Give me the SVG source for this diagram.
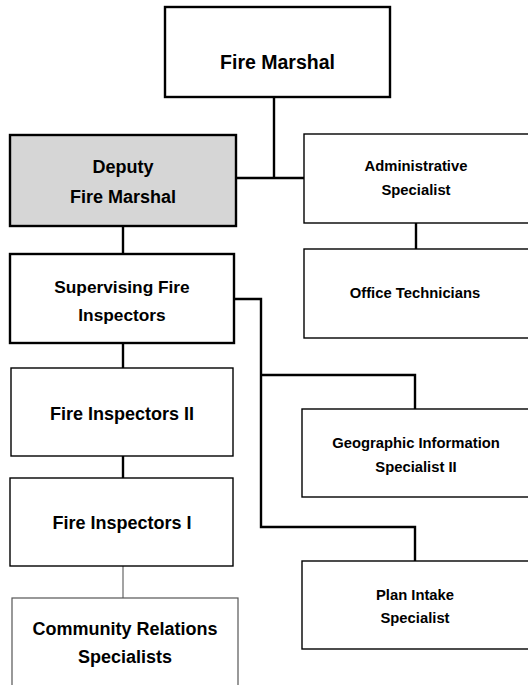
<svg xmlns="http://www.w3.org/2000/svg" width="528" height="685" viewBox="0 0 528 685">
<style>
  .box { fill: #ffffff; stroke: #000000; stroke-width: 1.4; }
  .bold { stroke-width: 2.4; }
  .gray { fill: #d6d6d6; }
  .lite { stroke: #555555; stroke-width: 1.2; }
  .t { font-family: "Liberation Sans", Arial, sans-serif; font-weight: bold; fill: #000; text-anchor: middle; }
  .big { font-size: 18px; }
  .sm { font-size: 14.8px; }
  .conn { fill: none; stroke: #000; stroke-width: 2.4; }
  .connl { fill: none; stroke: #666; stroke-width: 1.2; }
</style>
<rect width="528" height="685" fill="#ffffff"/>
<g id="connectors">
  <path class="conn" d="M274 97 V178 M236 178 H304"/>
  <path class="conn" d="M123 226 V254"/>
  <path class="conn" d="M416 223 V249"/>
  <path class="conn" d="M234 299 H261 V527 H415 V561 M261 375 H415 V409"/>
  <path class="conn" d="M123 343 V368"/>
  <path class="conn" d="M123 456 V478"/>
  <path class="connl" d="M123 566 V598"/>
</g>
<g id="fire-marshal">
  <rect class="box bold" x="165" y="7" width="225" height="90"/>
  <text class="t" x="277.5" y="69" font-size="19.5">Fire Marshal</text>
</g>
<g id="deputy-fire-marshal">
  <rect class="box bold gray" x="10" y="135" width="226" height="91"/>
  <text class="t big" x="123" y="173">Deputy</text>
  <text class="t big" x="123" y="203">Fire Marshal</text>
</g>
<g id="administrative-specialist">
  <rect class="box" x="304" y="134" width="236" height="89"/>
  <text class="t sm" x="416" y="171">Administrative</text>
  <text class="t sm" x="416" y="195">Specialist</text>
</g>
<g id="office-technicians">
  <rect class="box" x="304" y="249" width="236" height="89"/>
  <text class="t sm" x="415" y="298">Office Technicians</text>
</g>
<g id="supervising-fire-inspectors">
  <rect class="box bold" x="10" y="254" width="224" height="89"/>
  <text class="t" x="122" y="293" font-size="17.3">Supervising Fire</text>
  <text class="t" x="122" y="321" font-size="17.3">Inspectors</text>
</g>
<g id="fire-inspectors-ii">
  <rect class="box" x="11" y="368" width="222" height="88"/>
  <text class="t big" x="122" y="420">Fire Inspectors II</text>
</g>
<g id="geographic-information-specialist-ii">
  <rect class="box" x="302" y="409" width="238" height="88"/>
  <text class="t sm" x="416" y="448">Geographic Information</text>
  <text class="t sm" x="416" y="472">Specialist II</text>
</g>
<g id="fire-inspectors-i">
  <rect class="box" x="10" y="478" width="223" height="88"/>
  <text class="t big" x="122" y="529">Fire Inspectors I</text>
</g>
<g id="plan-intake-specialist">
  <rect class="box" x="302" y="561" width="238" height="88"/>
  <text class="t sm" x="415" y="600">Plan Intake</text>
  <text class="t sm" x="415" y="623">Specialist</text>
</g>
<g id="community-relations-specialists">
  <rect class="box lite" x="12" y="598" width="226" height="100"/>
  <text class="t big" x="125" y="635">Community Relations</text>
  <text class="t big" x="125" y="663">Specialists</text>
</g>
</svg>
